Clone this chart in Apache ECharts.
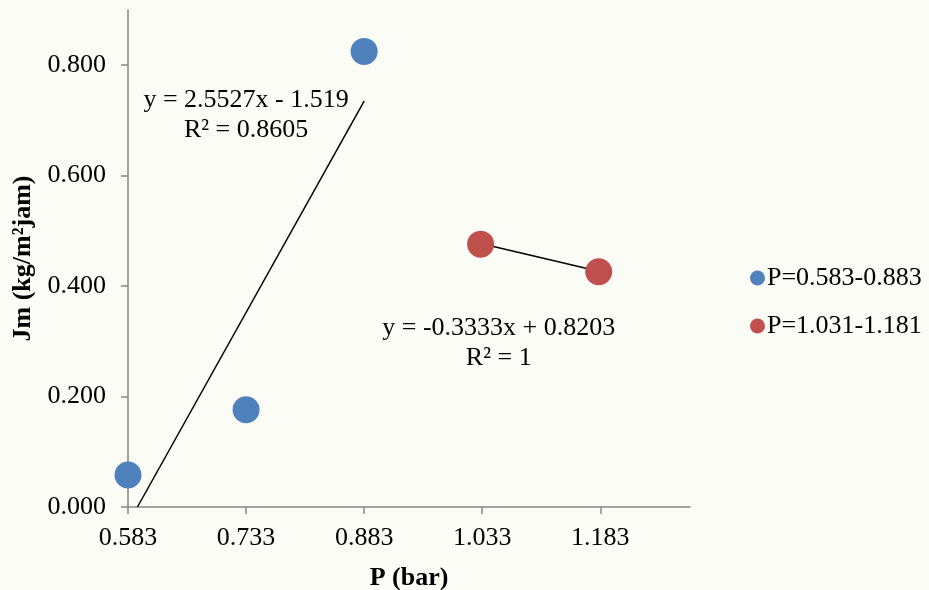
<!DOCTYPE html>
<html>
<head>
    <meta charset="utf-8">
    <title>Jm vs P</title>
    <script src="https://cdn.jsdelivr.net/npm/echarts@6/dist/echarts.min.js"></script>
</head>
<body style="margin:0;">
    <div id="main" style="width: 929px;height:590px;"></div>
    <script type="text/javascript">
        var myChart = echarts.init(document.getElementById('main'));

        // data
        var xTicks = [0.583, 0.733, 0.883, 1.033, 1.183];
        var yTicks = [0, 0.2, 0.4, 0.6, 0.8];
        var blueName = 'P=0.583-0.883';
        var redName = 'P=1.031-1.181';
        var bluePts = [[0.583, 0.058], [0.733, 0.176], [0.883, 0.825]];
        var redPts = [[1.031, 0.476], [1.181, 0.426]];
        // trendline ends (blue one is cut at y = 0)
        var blueTrend = [[0.595, 0], [0.883, 0.735]];
        var redTrend = [[1.031, 0.477], [1.181, 0.427]];
        var blueEq = 'y = 2.5527x - 1.519\nR² = 0.8605';
        var redEq = 'y = -0.3333x + 0.8203\nR² = 1';
        var blueEqAt = [0.733, 0.709];
        var redEqAt = [1.054, 0.296];

        var font = 'Liberation Serif';

        option = {
            backgroundColor: '#fcfcf7',
            textStyle: { fontFamily: font },
            grid: { left: 128, right: 239, top: 10, bottom: 83, outerBoundsMode: 'none' },
            legend: {
                orient: 'vertical',
                left: 745,
                top: 260,
                itemGap: 22,
                itemWidth: 15,
                itemHeight: 15,
                data: [
                    { name: blueName, icon: 'circle' },
                    { name: redName, icon: 'circle' }
                ],
                textStyle: { color: '#000', fontSize: 26, fontFamily: font, padding: [0, 0, 0, -3] }
            },
            xAxis: {
                type: 'value',
                min: 0.583,
                max: 1.297,
                name: 'P (bar)',
                nameLocation: 'middle',
                nameGap: 58,
                nameTextStyle: { fontSize: 26, fontWeight: 'bold', color: '#000', fontFamily: font },
                axisLine: { onZero: false, lineStyle: { color: '#868686', width: 1.5 } },
                axisTick: { show: true, length: 7, customValues: xTicks, lineStyle: { color: '#868686', width: 1.5 } },
                axisLabel: {
                    customValues: xTicks, fontSize: 26, color: '#000', margin: 18,
                    formatter: function (v) { return v.toFixed(3); }
                },
                splitLine: { show: false }
            },
            yAxis: {
                type: 'value',
                min: 0,
                max: 0.9,
                name: 'Jm (kg/m²jam)',
                nameLocation: 'middle',
                nameGap: 92,
                nameTextStyle: { fontSize: 26, fontWeight: 'bold', color: '#000', fontFamily: font },
                axisLine: { show: true, lineStyle: { color: '#868686', width: 1.5 } },
                axisTick: { show: true, length: 7, customValues: yTicks, lineStyle: { color: '#868686', width: 1.5 } },
                axisLabel: {
                    customValues: yTicks, fontSize: 26, color: '#000', margin: 22,
                    formatter: function (v) { return v.toFixed(3); }
                },
                splitLine: { show: false }
            },
            series: [{
                name: blueName,
                type: 'scatter',
                data: bluePts,
                symbolSize: 27,
                itemStyle: { color: '#4F81BD', opacity: 1 },
                z: 3
            }, {
                name: redName,
                type: 'scatter',
                data: redPts,
                symbolSize: 27,
                itemStyle: { color: '#C0504D', opacity: 1 },
                z: 3
            }, {
                type: 'line',
                data: blueTrend,
                symbol: 'none',
                silent: true,
                lineStyle: { color: '#000', width: 1.5 },
                markPoint: {
                    symbol: 'circle', symbolSize: 0,
                    data: [{ coord: blueEqAt }],
                    label: {
                        show: true, position: 'inside', formatter: blueEq,
                        fontSize: 26, color: '#000', fontFamily: font, lineHeight: 30, align: 'center'
                    }
                },
                z: 2
            }, {
                type: 'line',
                data: redTrend,
                symbol: 'none',
                silent: true,
                lineStyle: { color: '#000', width: 1.5 },
                markPoint: {
                    symbol: 'circle', symbolSize: 0,
                    data: [{ coord: redEqAt }],
                    label: {
                        show: true, position: 'inside', formatter: redEq,
                        fontSize: 26, color: '#000', fontFamily: font, lineHeight: 30, align: 'center'
                    }
                },
                z: 2
            }]
        };

        myChart.setOption(option);
    </script>
</body>
</html>
